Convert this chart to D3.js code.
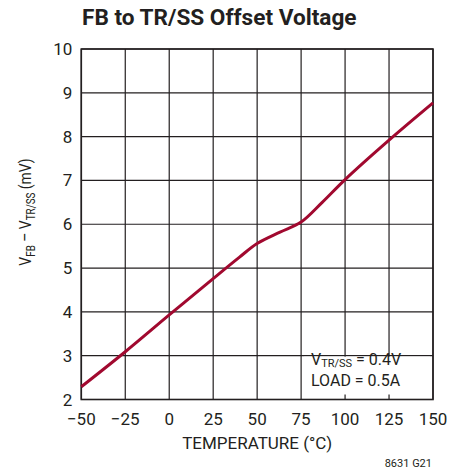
<!DOCTYPE html>
<html>
<head>
<meta charset="utf-8">
<script src="https://cdn.jsdelivr.net/npm/d3@7"></script>
<style>
  body { margin: 0; background: #fff; }
  text { font-family: "Liberation Sans Narrow", "Roboto", sans-serif; fill: #231f20; }
</style>
</head>
<body>
<div id="chart"></div>
<script>
// data
const temps   = [-50, -25, 0, 25, 40, 50, 63, 75, 87, 100, 125, 150];
const offsets = [2.29, 3.09, 3.93, 4.76, 5.25, 5.56, 5.82, 6.05, 6.5, 7.02, 7.92, 8.77];
const xTicks = [-50, -25, 0, 25, 50, 75, 100, 125, 150];
const yTicks = [2, 3, 4, 5, 6, 7, 8, 9, 10];

const W = 466, H = 474;
const margin = {top: 49, right: 33, bottom: 74.5, left: 81.3};
const width = W - margin.left - margin.right;
const height = H - margin.top - margin.bottom;

const svg = d3.select('#chart').append('svg')
    .attr('width', W)
    .attr('height', H);

const g = svg.append('g')
    .attr('transform', 'translate(' + margin.left + ',' + margin.top + ')');

const xScale = d3.scaleLinear().domain([-50, 150]).range([0, width]);
const yScale = d3.scaleLinear().domain([2, 10]).range([height, 0]);

// grid
g.selectAll('.vgrid').data(xTicks).enter().append('line')
    .attr('x1', d => xScale(d)).attr('x2', d => xScale(d))
    .attr('y1', 0).attr('y2', height)
    .attr('stroke', '#231f20').attr('stroke-width', 1.2);
g.selectAll('.hgrid').data(yTicks).enter().append('line')
    .attr('y1', d => yScale(d)).attr('y2', d => yScale(d))
    .attr('x1', 0).attr('x2', width)
    .attr('stroke', '#231f20').attr('stroke-width', 1.2);

// annotation box blanks out the grid, leaving small ticks
g.append('rect')
    .attr('x', xScale(75) + 3).attr('y', yScale(3) + 1)
    .attr('width', xScale(150) - xScale(75) - 6)
    .attr('height', yScale(2) - yScale(3) - 6)
    .attr('fill', '#fff');

// frame
g.append('rect')
    .attr('width', width).attr('height', height)
    .attr('fill', 'none').attr('stroke', '#231f20').attr('stroke-width', 1.6);

// curve
const line = d3.line()
    .x((d, i) => xScale(temps[i]))
    .y(d => yScale(d))
    .curve(d3.curveCatmullRom);

g.append('path')
    .datum(offsets)
    .attr('d', line)
    .attr('fill', 'none')
    .attr('stroke', '#a1092f')
    .attr('stroke-width', 3);

// tick labels
g.selectAll('.xl').data(xTicks).enter().append('text')
    .attr('x', d => xScale(d)).attr('y', height + 25)
    .attr('text-anchor', 'middle')
    .attr('font-size', 17)
    .text(d => d < 0 ? '\u2212' + Math.abs(d) : d);

g.selectAll('.yl').data(yTicks).enter().append('text')
    .attr('x', -9).attr('y', d => yScale(d) + 6)
    .attr('text-anchor', 'end')
    .attr('font-size', 17)
    .text(d => d);

// title
svg.append('text')
    .attr('x', 82).attr('y', 25)
    .attr('font-size', 22.6).attr('font-weight', 'bold')
    .text('FB to TR/SS Offset Voltage');

// x axis title
svg.append('text')
    .attr('x', margin.left + width / 2).attr('y', 449)
    .attr('text-anchor', 'middle')
    .attr('font-size', 17)
    .text('TEMPERATURE (°C)');

// y axis title with subscripts (condensed a little)
const yt = svg.append('text')
    .attr('transform', 'translate(31,212) rotate(-90) scale(0.82,1)')
    .attr('text-anchor', 'middle')
    .attr('font-size', 17);
yt.append('tspan').text('V');
yt.append('tspan').attr('font-size', 12).attr('dy', 4).text('FB');
yt.append('tspan').attr('dy', -4).text(' \u2013 V');
yt.append('tspan').attr('font-size', 12).attr('dy', 4).text('TR/SS');
yt.append('tspan').attr('dy', -4).text(' (mV)');

// annotation
const a1 = svg.append('text')
    .attr('x', 311).attr('y', 364.5)
    .attr('font-size', 16);
a1.append('tspan').text('V');
a1.append('tspan').attr('font-size', 11).attr('dy', 2.5).text('TR/SS');
a1.append('tspan').attr('dy', -2.5).text(' = 0.4V');
svg.append('text')
    .attr('x', 311).attr('y', 386)
    .attr('font-size', 16)
    .text('LOAD = 0.5A');

// figure code
svg.append('text')
    .attr('x', 432).attr('y', 467)
    .attr('text-anchor', 'end')
    .attr('font-size', 11)
    .text('8631 G21');
</script>
</body>
</html>
